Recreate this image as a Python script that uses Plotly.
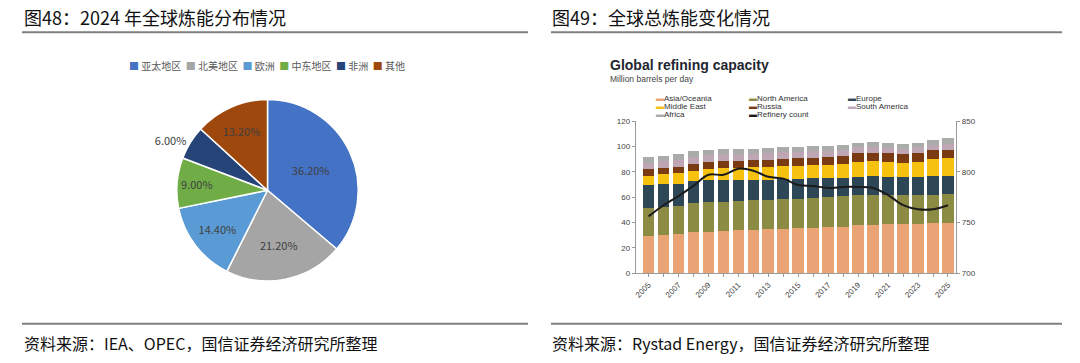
import plotly.graph_objects as go

# ---------------- data: left pie ----------------
pie_labels = ["亚太地区", "北美地区", "欧洲", "中东地区", "非洲", "其他"]
pie_values = [36.2, 21.2, 14.4, 9.0, 6.0, 13.2]
pie_colors = ["#4472C4", "#A5A5A5", "#5B9BD5", "#70AD47", "#264478", "#9E480E"]

# ---------------- data: right stacked bars ----------------
years = list(range(2005, 2026))
asia = [29.2, 30.0, 30.5, 32.3, 32.6, 33.6, 34.0, 34.4, 34.8, 35.2, 35.6, 36.0, 36.3, 36.8, 37.7, 38.2, 38.4, 38.7, 39.0, 39.2, 39.7]
north_america = [22.1, 22.5, 22.8, 22.7, 23.2, 22.6, 22.8, 23.0, 23.0, 23.0, 23.2, 23.3, 23.5, 23.8, 23.8, 23.5, 23.2, 23.0, 22.7, 22.8, 22.9]
europe = [17.9, 17.5, 17.2, 18.0, 17.3, 17.0, 17.0, 16.4, 16.0, 16.0, 15.6, 15.5, 15.2, 14.8, 14.2, 14.8, 14.4, 14.2, 14.2, 14.5, 14.1]
middle_east = [7.8, 8.0, 8.2, 7.8, 8.7, 9.5, 9.0, 9.6, 10.0, 10.2, 10.4, 10.4, 10.6, 11.0, 12.0, 11.6, 11.5, 11.2, 11.8, 13.3, 14.1]
russia = [5.0, 5.2, 5.2, 5.5, 5.7, 5.6, 5.8, 5.6, 5.8, 5.8, 6.0, 6.0, 6.0, 6.2, 6.9, 7.0, 7.0, 6.7, 7.0, 7.0, 6.4]
south_america = [5.0, 5.3, 5.5, 5.5, 5.6, 5.5, 5.4, 5.2, 5.2, 5.3, 5.0, 5.0, 5.0, 4.8, 4.6, 4.5, 4.4, 4.4, 4.5, 4.3, 5.0]
africa = [4.5, 4.2, 4.6, 4.4, 4.4, 4.2, 4.0, 3.8, 3.8, 3.8, 3.8, 3.8, 3.8, 3.8, 3.8, 3.8, 3.8, 3.8, 3.8, 3.9, 4.5]
refinery_count = [756, 767, 776, 786, 797, 797, 803, 801, 795, 793, 787, 786, 784, 785, 785, 784, 777, 767, 763, 763, 767]

series_names = ["Asia/Oceania", "North America", "Europe", "Middle East", "Russia", "South America", "Africa"]
series_values = [asia, north_america, europe, middle_east, russia, south_america, africa]
series_colors = ["#E9A374", "#8C8B43", "#2D4757", "#F6C10F", "#7A3B13", "#BEA6B4", "#A9ACA9"]

W, H = 1080, 363


def px_x(p):
    return p / W


def px_y(p):
    return 1 - p / H


fig = go.Figure()

# pie
cx, cy, r = 266, 191, 93
fig.add_trace(go.Pie(
    labels=pie_labels, values=pie_values, sort=False, direction="clockwise", rotation=0,
    marker=dict(colors=pie_colors, line=dict(color="white", width=1.5)),
    texttemplate="%{value:.2f}%",
    textposition=["inside", "inside", "inside", "inside", "outside", "inside"],
    insidetextorientation="horizontal",
    textfont=dict(size=11, color="#404040", family="Noto Sans CJK SC"),
    domain=dict(x=[px_x(cx - r), px_x(cx + r)], y=[px_y(cy + r), px_y(cy - r)]),
    showlegend=False, hoverinfo="label+percent",
))

# stacked bars
for name, vals, col in zip(series_names, series_values, series_colors):
    fig.add_trace(go.Bar(x=years, y=vals, name=name, marker=dict(color=col, line=dict(width=0)),
                         xaxis="x", yaxis="y", showlegend=False))

fig.add_trace(go.Scatter(x=years, y=refinery_count, name="Refinery count", mode="lines",
                         line=dict(color="#1B1B1B", width=2, shape="spline"),
                         xaxis="x", yaxis="y2", showlegend=False))

axis_common = dict(showline=True, linecolor="#9A9A9A", linewidth=1, ticks="outside", ticklen=3,
                   tickcolor="#9A9A9A", showgrid=False, zeroline=False,
                   tickfont=dict(size=8, color="#444444", family="Liberation Sans"))

fig.update_layout(
    width=W, height=H, margin=dict(l=0, r=0, t=0, b=0),
    paper_bgcolor="white", plot_bgcolor="white", showlegend=False,
    barmode="stack", bargap=0.22,
    xaxis=dict(domain=[px_x(635), px_x(956)], range=[2004.15, 2025.55],
               tickvals=years, ticktext=[str(y) if y % 2 == 1 else "" for y in years],
               tickangle=-45, anchor="y", **axis_common),
    yaxis=dict(domain=[px_y(276), px_y(120)], range=[0, 120], dtick=20, anchor="x", **axis_common),
    yaxis2=dict(overlaying="y", side="right", range=[700, 850], dtick=50, anchor="x", **axis_common),
)

annotations = []
heading_font = dict(family="Noto Sans CJK SC", size=18, color="#111111")
annotations.append(dict(text="图48：2024 年全球炼能分布情况", x=px_x(20), y=px_y(13), xref="paper", yref="paper",
                        xanchor="left", yanchor="middle", showarrow=False, font=heading_font))
annotations.append(dict(text="图49：全球总炼能变化情况", x=px_x(549), y=px_y(13), xref="paper", yref="paper",
                        xanchor="left", yanchor="middle", showarrow=False, font=heading_font))
src_font = dict(family="Noto Sans CJK SC", size=16, color="#111111")
annotations.append(dict(text="资料来源：IEA、OPEC，国信证券经济研究所整理", x=px_x(20), y=px_y(348), xref="paper",
                        yref="paper", xanchor="left", yanchor="middle", showarrow=False, font=src_font))
annotations.append(dict(text="资料来源：Rystad Energy，国信证券经济研究所整理", x=px_x(549), y=px_y(348), xref="paper",
                        yref="paper", xanchor="left", yanchor="middle", showarrow=False, font=src_font))

# pie legend as one line of text
legend_txt = "  ".join(f"<span style='color:{c}'>■</span> {l}" for l, c in zip(pie_labels, pie_colors))
annotations.append(dict(text=legend_txt, x=px_x(265), y=px_y(63), xref="paper", yref="paper",
                        xanchor="center", yanchor="middle", showarrow=False,
                        font=dict(family="Noto Sans CJK SC", size=10, color="#595959")))

# right chart title / subtitle
annotations.append(dict(text="<b>Global refining capacity</b>", x=px_x(607), y=px_y(63), xref="paper", yref="paper",
                        xanchor="left", yanchor="middle", showarrow=False,
                        font=dict(family="Liberation Sans", size=14, color="#1E2630")))
annotations.append(dict(text="Million barrels per day", x=px_x(607), y=px_y(77), xref="paper", yref="paper",
                        xanchor="left", yanchor="middle", showarrow=False,
                        font=dict(family="Liberation Sans", size=8.5, color="#444444")))

# right chart legend (3 columns)
legend_items = list(zip(series_names, series_colors)) + [("Refinery count", "#1B1B1B")]
order = [0, 3, 6, 1, 4, 7, 2, 5]  # column-major layout of the original legend
col_x = [653, 746, 846]
row_y = [97, 105, 113]
for slot, idx in enumerate(order):
    name, colr = legend_items[idx]
    c, rr = slot // 3, slot % 3
    annotations.append(dict(text=f"<span style='color:{colr}'>▬</span>{name}", x=px_x(col_x[c]), y=px_y(row_y[rr]),
                            xref="paper", yref="paper", xanchor="left", yanchor="middle", showarrow=False,
                            font=dict(family="Liberation Sans", size=8, color="#333333")))

fig.update_layout(annotations=annotations)

# decorative rules
shapes = []
for x0, x1 in [(20, 527), (550, 1062)]:
    shapes.append(dict(type="line", xref="paper", yref="paper", x0=px_x(x0), x1=px_x(x1), y0=px_y(29), y1=px_y(29),
                       line=dict(color="#7F7F7F", width=2)))
    shapes.append(dict(type="line", xref="paper", yref="paper", x0=px_x(x0), x1=px_x(x1), y0=px_y(328), y1=px_y(328),
                       line=dict(color="#7F7F7F", width=2)))
fig.update_layout(shapes=shapes)

fig.write_html("out.html", config={"displayModeBar": False},
               post_script="document.body.style.margin='0';document.body.style.overflow='hidden';")
